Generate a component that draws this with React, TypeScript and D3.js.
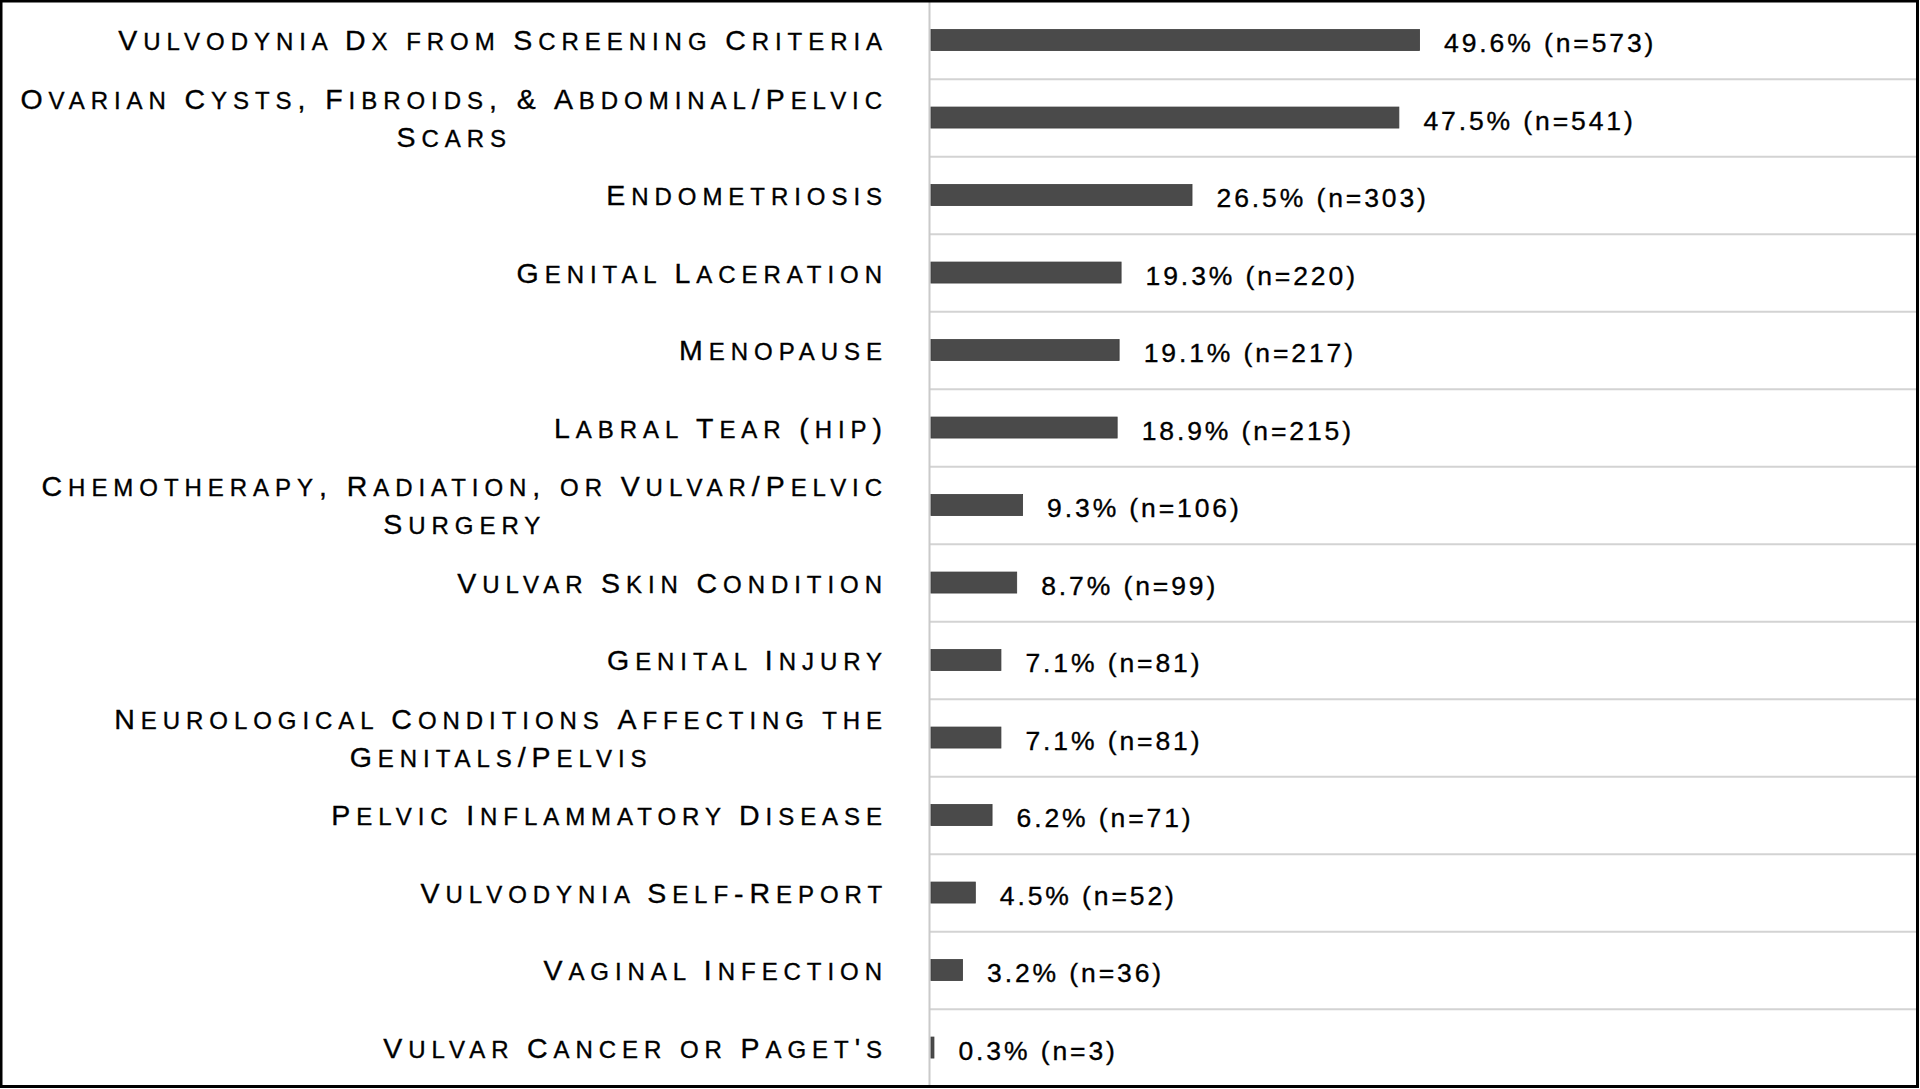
import React, { useEffect, useRef } from 'react';
import * as d3 from 'd3';

const categories: string[] = [
  'Vulvodynia Dx from Screening Criteria',
  'Ovarian Cysts, Fibroids, & Abdominal/Pelvic\nScars',
  'Endometriosis',
  'Genital Laceration',
  'Menopause',
  'Labral Tear (hip)',
  'Chemotherapy, Radiation, or Vulvar/Pelvic\nSurgery',
  'Vulvar Skin Condition',
  'Genital Injury',
  'Neurological Conditions Affecting the\nGenitals/Pelvis',
  'Pelvic Inflammatory Disease',
  'Vulvodynia Self-Report',
  'Vaginal Infection',
  "Vulvar Cancer or Paget's",
];

const percents: number[] = [49.6, 47.5, 26.5, 19.3, 19.1, 18.9, 9.3, 8.7, 7.1, 7.1, 6.2, 4.5, 3.2, 0.3];
const counts: number[] = [573, 541, 303, 220, 217, 215, 106, 99, 81, 81, 71, 52, 36, 3];

const W = 1920;
const H = 1089;
const FONT = "'Liberation Sans', Arial, Helvetica, sans-serif";

type Run = { text: string; small: boolean };

function splitRuns(s: string): Run[] {
  const runs: Run[] = [];
  for (const ch of s) {
    const isLower = ch !== ch.toUpperCase() && ch === ch.toLowerCase();
    const isSpace = ch === ' ';
    const last = runs[runs.length - 1];
    if (last && (isSpace || last.small === isLower)) {
      last.text += ch;
    } else {
      runs.push({ text: ch, small: isLower });
    }
  }
  return runs;
}

export default function App() {
  const ref = useRef<SVGSVGElement>(null);

  useEffect(() => {
    const svg = d3.select(ref.current);
    svg.selectAll('*').remove();

    const x = d3.scaleLinear().domain([0, 100]).range([931, 1916]);
    const y = d3
      .scaleBand<number>()
      .domain(d3.range(categories.length))
      .range([1.8, 1086.8]);
    const bw = y.bandwidth();

    svg.append('rect').attr('x', 0).attr('y', 0).attr('width', W).attr('height', H).attr('fill', '#ffffff');

    // horizontal separators
    svg
      .append('g')
      .selectAll('line')
      .data(d3.range(1, categories.length))
      .join('line')
      .attr('x1', 930)
      .attr('x2', 1916)
      .attr('y1', (i) => y(i)!)
      .attr('y2', (i) => y(i)!)
      .attr('stroke', '#d3d3d3')
      .attr('stroke-width', 2);

    // vertical axis line
    svg
      .append('line')
      .attr('x1', 929.5)
      .attr('x2', 929.5)
      .attr('y1', 1.8)
      .attr('y2', 1086.8)
      .attr('stroke', '#cacaca')
      .attr('stroke-width', 2);

    // bars
    svg
      .append('g')
      .selectAll('rect')
      .data(percents)
      .join('rect')
      .attr('x', x(0))
      .attr('y', (_, i) => y(i)! + bw / 2 - 11)
      .attr('width', (d) => Math.max(x(d) - x(0), 1.5))
      .attr('height', 21)
      .attr('fill', '#4a4a4a')
      .attr('stroke', '#3c3c3c')
      .attr('stroke-width', 0.8);

    // value labels
    svg
      .append('g')
      .selectAll('text')
      .data(percents)
      .join('text')
      .attr('x', (d) => x(d) + 24.5)
      .attr('y', (_, i) => y(i)! + bw / 2 + 11.8)
      .attr('font-family', FONT)
      .attr('font-size', 26.5)
      .attr('letter-spacing', 2.9)
      .attr('fill', '#000')
      .attr('stroke', '#000')
      .attr('stroke-width', 0.35)
      .text((d, i) => `${d.toFixed(1)}% (n=${counts[i]})`);

    // category labels (small caps)
    const lg = svg.append('g');
    const labelRight = 888;
    const pitch = 38;
    categories.forEach((cat, i) => {
      const lines = cat.split('\n');
      const cy = y(i)! + bw / 2;
      const texts = lines.map((line, li) => {
        const baseline = cy + 9.6 + (li - (lines.length - 1) / 2) * pitch;
        const t = lg
          .append('text')
          .attr('y', baseline)
          .attr('text-anchor', 'middle')
          .attr('font-family', FONT)
          .attr('letter-spacing', 5.95)
          .attr('fill', '#000')
          .attr('stroke', '#000')
          .attr('stroke-width', 0.35);
        splitRuns(line).forEach((r) => {
          t.append('tspan')
            .attr('font-size', r.small ? 24 : 28.5)
            .text(r.text.toUpperCase());
        });
        return t;
      });
      const widths = texts.map((t) => (t.node() as SVGTextElement).getComputedTextLength());
      const maxW = Math.max(...widths);
      const cx = labelRight - maxW / 2;
      texts.forEach((t) => t.attr('x', cx));
    });

    // frame
    svg
      .append('rect')
      .attr('x', 1)
      .attr('y', 1)
      .attr('width', 1916.5)
      .attr('height', 1085.5)
      .attr('fill', 'none')
      .attr('stroke', '#000')
      .attr('stroke-width', 3);
  }, []);

  return (
    <svg
      ref={ref}
      width={W}
      height={H}
      style={{ position: 'absolute', left: 0, top: 0, display: 'block' }}
    />
  );
}
